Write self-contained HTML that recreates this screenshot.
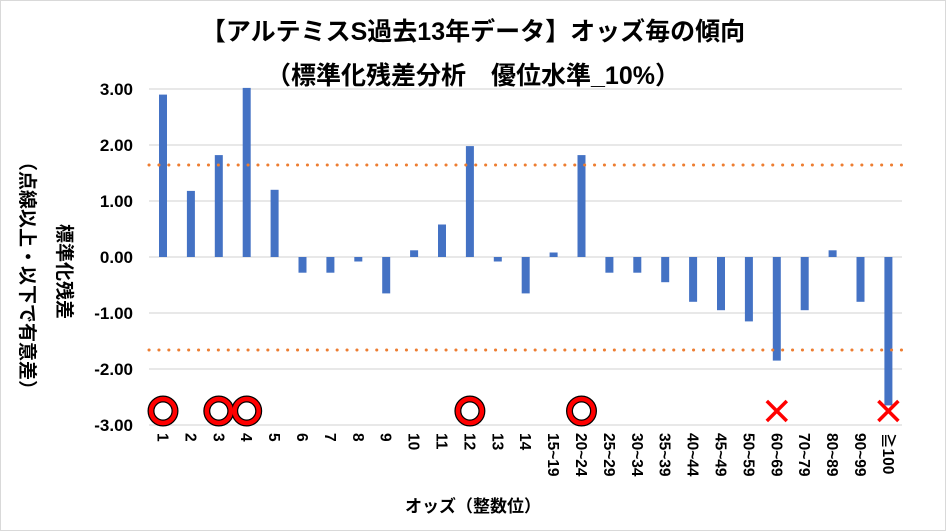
<!DOCTYPE html>
<html><head><meta charset="utf-8"><style>
html,body{margin:0;padding:0;background:#fff;}
svg{display:block;font-family:"Liberation Sans","Noto Sans CJK JP",sans-serif;font-weight:bold;}
</style></head><body>
<svg width="946" height="531" viewBox="0 0 946 531" xmlns="http://www.w3.org/2000/svg">
<rect x="0.5" y="0.5" width="945" height="530" fill="#fff" stroke="#d9d9d9"/>
<text x="473" y="40" text-anchor="middle" font-size="25" fill="#000">【アルテミスS過去13年データ】オッズ毎の傾向</text>
<text x="473" y="84" text-anchor="middle" font-size="25" fill="#000">（標準化残差分析　優位水準_10%）</text>
<g stroke="#d9d9d9" stroke-width="1.3">
<line x1="149" x2="902" y1="89" y2="89"/><line x1="149" x2="902" y1="145" y2="145"/>
<line x1="149" x2="902" y1="201" y2="201"/><line x1="149" x2="902" y1="257" y2="257"/>
<line x1="149" x2="902" y1="313" y2="313"/><line x1="149" x2="902" y1="369" y2="369"/>
<line x1="149" x2="902" y1="425" y2="425"/>
</g>
<g font-size="17" text-anchor="end" fill="#000">
<text x="133" y="95">3.00</text><text x="133" y="151">2.00</text><text x="133" y="207">1.00</text>
<text x="133" y="263">0.00</text><text x="133" y="319">-1.00</text><text x="133" y="375">-2.00</text><text x="133" y="431">-3.00</text>
</g>
<text transform="translate(58,224) rotate(90)" font-size="19" fill="#000">標準化残差</text>
<text transform="translate(21,152) rotate(90)" font-size="19" fill="#000">（点線以上・以下で有意差）</text>
<g fill="#4472c4">
<rect x="159" y="94.6" width="8" height="162.4"/>
<rect x="186.9" y="190.9" width="8" height="66.1"/>
<rect x="214.8" y="155.1" width="8" height="101.9"/>
<rect x="242.7" y="87.9" width="8" height="169.1"/>
<rect x="270.6" y="189.8" width="8" height="67.2"/>
<rect x="298.5" y="257" width="8" height="15.7"/>
<rect x="326.4" y="257" width="8" height="15.7"/>
<rect x="354.3" y="257" width="8" height="4.5"/>
<rect x="382.2" y="257" width="8" height="36.4"/>
<rect x="410.1" y="250.3" width="8" height="6.7"/>
<rect x="438" y="224.5" width="8" height="32.5"/>
<rect x="465.9" y="146.1" width="8" height="110.9"/>
<rect x="493.8" y="257" width="8" height="4.5"/>
<rect x="521.7" y="257" width="8" height="36.4"/>
<rect x="549.6" y="252.5" width="8" height="4.5"/>
<rect x="577.5" y="155.1" width="8" height="101.9"/>
<rect x="605.4" y="257" width="8" height="15.7"/>
<rect x="633.3" y="257" width="8" height="15.7"/>
<rect x="661.2" y="257" width="8" height="25.2"/>
<rect x="689.1" y="257" width="8" height="44.8"/>
<rect x="717" y="257" width="8" height="53.2"/>
<rect x="744.9" y="257" width="8" height="64.4"/>
<rect x="772.8" y="257" width="8" height="103.6"/>
<rect x="800.7" y="257" width="8" height="53.2"/>
<rect x="828.6" y="250.3" width="8" height="6.7"/>
<rect x="856.5" y="257" width="8" height="44.8"/>
<rect x="884.4" y="257" width="8" height="148.4"/>
</g>
<line x1="149" x2="902" y1="165" y2="165" stroke="#ed7d31" stroke-width="3" stroke-dasharray="0.1 9.8" stroke-linecap="round"/>
<line x1="149" x2="902" y1="350" y2="350" stroke="#ed7d31" stroke-width="3" stroke-dasharray="0.1 9.8" stroke-linecap="round"/>
<g fill="none">
<g stroke="#000" stroke-width="7">
<circle cx="163" cy="411" r="12"/><circle cx="218.8" cy="411" r="12"/><circle cx="246.7" cy="411" r="12"/><circle cx="469.9" cy="411" r="12"/><circle cx="581.5" cy="411" r="12"/>
</g>
<g stroke="#ff0000" stroke-width="4.5">
<circle cx="163" cy="411" r="12"/><circle cx="218.8" cy="411" r="12"/><circle cx="246.7" cy="411" r="12"/><circle cx="469.9" cy="411" r="12"/><circle cx="581.5" cy="411" r="12"/>
</g>
<path d="M766.8,401L786.8,421M786.8,401L766.8,421M878.4,401L898.4,421M898.4,401L878.4,421" stroke="#ff0000" stroke-width="3.5"/>
</g>
<g font-size="15.5" fill="#000">
<text transform="translate(157.5,433) rotate(90)">1</text>
<text transform="translate(185.4,433) rotate(90)">2</text>
<text transform="translate(213.3,433) rotate(90)">3</text>
<text transform="translate(241.2,433) rotate(90)">4</text>
<text transform="translate(269.1,433) rotate(90)">5</text>
<text transform="translate(297,433) rotate(90)">6</text>
<text transform="translate(324.9,433) rotate(90)">7</text>
<text transform="translate(352.8,433) rotate(90)">8</text>
<text transform="translate(380.7,433) rotate(90)">9</text>
<text transform="translate(408.6,433) rotate(90)">10</text>
<text transform="translate(436.5,433) rotate(90)">11</text>
<text transform="translate(464.4,433) rotate(90)">12</text>
<text transform="translate(492.3,433) rotate(90)">13</text>
<text transform="translate(520.2,433) rotate(90)">14</text>
<text transform="translate(548.1,433) rotate(90)">15~19</text>
<text transform="translate(576,433) rotate(90)">20~24</text>
<text transform="translate(603.9,433) rotate(90)">25~29</text>
<text transform="translate(631.8,433) rotate(90)">30~34</text>
<text transform="translate(659.7,433) rotate(90)">35~39</text>
<text transform="translate(687.6,433) rotate(90)">40~44</text>
<text transform="translate(715.5,433) rotate(90)">45~49</text>
<text transform="translate(743.4,433) rotate(90)">50~59</text>
<text transform="translate(771.3,433) rotate(90)">60~69</text>
<text transform="translate(799.2,433) rotate(90)">70~79</text>
<text transform="translate(827.1,433) rotate(90)">80~89</text>
<text transform="translate(855,433) rotate(90)">90~99</text>
<text transform="translate(882.9,433) rotate(90)">≧100</text>
</g>
<text x="473" y="512" text-anchor="middle" font-size="17" fill="#000">オッズ（整数位）</text>
</svg>
</body></html>
